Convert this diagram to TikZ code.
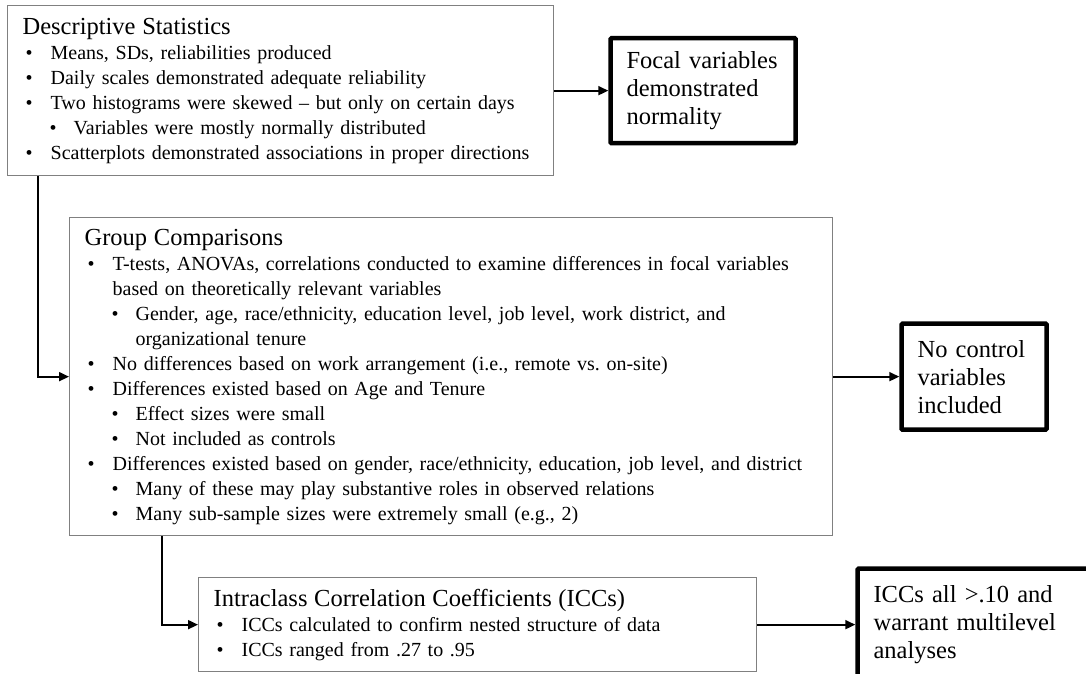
\documentclass[tikz,border=0pt]{standalone}
\usepackage{fontspec}
\setmainfont{Liberation Serif}
\usetikzlibrary{arrows.meta, positioning}
\newcommand{\bodyfont}{\fontsize{20}{25}\selectfont}
\newcommand{\resfont}{\fontsize{24.5}{28}\selectfont}
\newcommand{\boxtitle}[1]{\noindent\mbox{\fontsize{24.5}{27}\selectfont #1}\par}
\newcommand{\bul}[1]{\noindent\makebox[28pt][l]{\hspace{3pt}\textbullet}\mbox{#1}\par}
\newcommand{\bulcont}[1]{\noindent\hspace{28pt}\mbox{#1}\par}
\newcommand{\subbul}[1]{\noindent\makebox[51pt][l]{\hspace{27pt}\textbullet}\mbox{#1}\par}
\newcommand{\subcont}[1]{\noindent\hspace{51pt}\mbox{#1}\par}
\tikzset{
    panel/.style={draw=black!50, line width=1.3pt, anchor=north west, align=left, inner xsep=15pt, inner ysep=0pt, font=\bodyfont},
    result/.style={draw=black, line width=4.5pt, rounded corners=1pt, align=left, inner xsep=16pt, inner ysep=0pt, font=\resfont},
    arrow/.style={-{Triangle[length=10pt,width=9pt]}, line width=1.8pt, draw=black}
}
\begin{document}
\begin{tikzpicture}[x=1pt, y=-1pt]
    \useasboundingbox (0,0) rectangle (1086,673);
    \clip (0,0) rectangle (1086,673);

    % Panels
    \node (desc) [panel, text width=516pt, minimum height=170pt] at (7,5) {%
        \boxtitle{Descriptive Statistics}
        \bul{Means, SDs, reliabilities produced}
        \bul{Daily scales demonstrated adequate reliability}
        \bul{Two histograms were skewed -- but only on certain days}
        \subbul{Variables were mostly normally distributed}
        \bul{Scatterplots demonstrated associations in proper directions}};

    \node (group) [panel, text width=733pt, minimum height=318pt] at (69,217) {%
        \boxtitle{Group Comparisons}
        \bul{T-tests, ANOVAs, correlations conducted to examine differences in focal variables}
        \bulcont{based on theoretically relevant variables}
        \subbul{Gender, age, race/ethnicity, education level, job level, work district, and}
        \subcont{organizational tenure}
        \bul{No differences based on work arrangement (i.e., remote vs.\ on-site)}
        \bul{Differences existed based on Age and Tenure}
        \subbul{Effect sizes were small}
        \subbul{Not included as controls}
        \bul{Differences existed based on gender, race/ethnicity, education, job level, and district}
        \subbul{Many of these may play substantive roles in observed relations}
        \subbul{Many sub-sample sizes were extremely small (e.g., 2)}};

    \node (icc) [panel, text width=528pt, minimum height=94pt] at (198,577) {%
        \boxtitle{Intraclass Correlation Coefficients (ICCs)}
        \bul{ICCs calculated to confirm nested structure of data}
        \bul{ICCs ranged from .27 to .95}};

    % Outcomes
    \node (focal) [result, right=54pt of desc, text width=153pt, minimum height=105pt] {Focal variables\\demonstrated\\normality};
    \node (noctrl) [result, right=66pt of group, text width=113pt, minimum height=106pt] {No control\\variables\\included};
    \node (iccout) [result, right=98pt of icc, text width=214pt, minimum height=112pt] {ICCs all >.10 and\\warrant multilevel\\analyses};

    % Flows
    \draw [arrow] (desc.east) -- (focal.west);
    \draw [arrow] ([xshift=31pt]desc.south west) |- (group.west);
    \draw [arrow] (group.east) -- (noctrl.west);
    \draw [arrow] ([xshift=93pt]group.south west) |- (icc.west);
    \draw [arrow] (icc.east) -- (iccout.west);
\end{tikzpicture}
\end{document}
